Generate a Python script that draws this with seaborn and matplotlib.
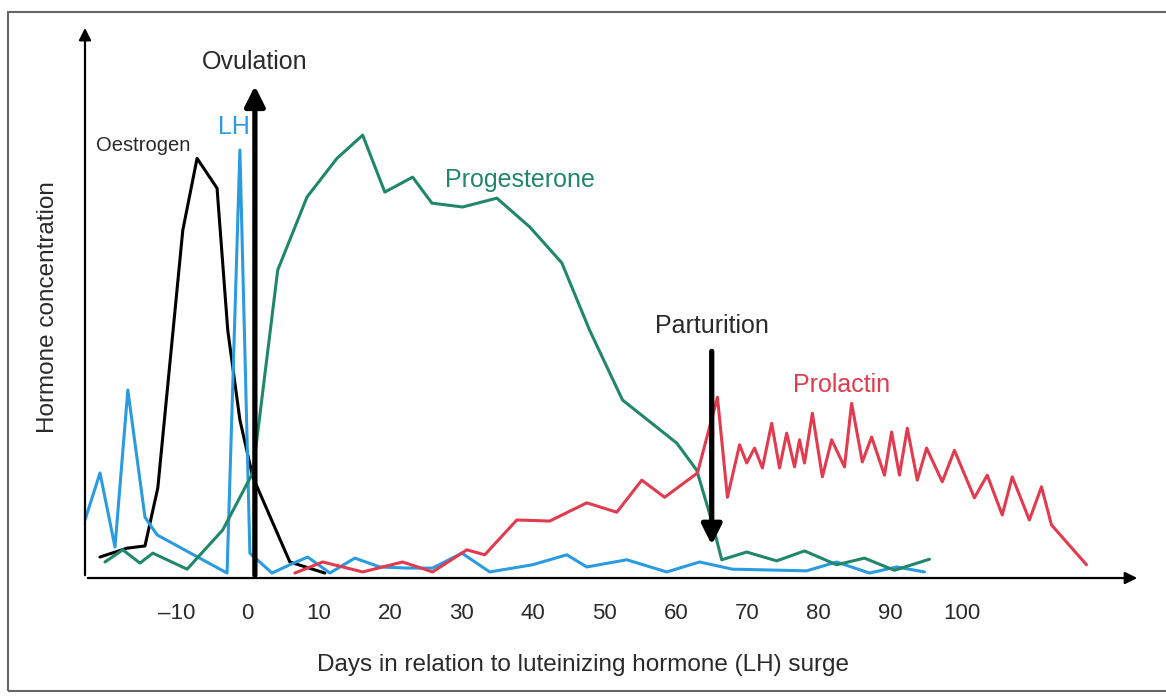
import numpy as np
import pandas as pd
import matplotlib
matplotlib.use("Agg")
import matplotlib.pyplot as plt
from matplotlib.patches import Rectangle
import seaborn as sns

# values (days vs. relative concentration, 0-100)
oestrogen_day = [-20.7, -16.9, -14.4, -12.6, -9.1, -7.1, -4.3, -2.8, -1.1, 0.7, 5.9, 10.8]
oestrogen_val = [3.8, 5.4, 5.8, 16.3, 62.9, 75.9, 70.5, 44.8, 28.6, 18.3, 2.9, 0.9]

lh_day = [-22.8, -20.7, -18.6, -16.8, -14.4, -12.7, -2.9, -1.1, 0.3, 3.4, 5.9, 8.4, 11.5,
          15.0, 18.5, 22.3, 25.9, 30.0, 33.9, 39.9, 44.7, 47.5, 53.1, 58.7, 63.3, 67.9,
          78.3, 82.5, 87.1, 90.9, 94.8]
lh_val = [10.5, 19.0, 5.6, 34.0, 11.0, 7.8, 0.9, 77.4, 4.5, 0.9, 2.4, 3.8, 0.9,
          3.6, 2.0, 1.8, 1.8, 4.5, 1.1, 2.4, 4.2, 2.0, 3.3, 1.1, 2.9, 1.6,
          1.3, 2.9, 0.9, 2.0, 1.1]

prog_day = [-20.0, -17.5, -15.1, -13.3, -8.5, -3.5, 0.7, 4.2, 8.3, 12.5, 16.1, 19.2, 23.1,
            25.8, 30.1, 34.9, 39.5, 44.0, 47.9, 52.5, 60.1, 62.9, 65.1, 66.4, 69.9, 74.1,
            78.0, 82.5, 86.4, 90.6, 95.5]
prog_val = [2.9, 5.1, 2.7, 4.5, 1.6, 8.7, 19.0, 55.7, 68.9, 75.9, 80.1, 69.8, 72.5,
            67.8, 67.1, 68.7, 63.5, 57.0, 44.8, 32.2, 24.4, 19.5, 9.9, 3.3, 4.7, 3.1,
            4.9, 2.4, 3.6, 1.4, 3.4]

prl_day = [6.6, 10.5, 16.1, 21.7, 25.9, 30.7, 33.2, 37.7, 42.3, 47.5, 51.7, 55.2, 58.4,
           63.0, 65.8, 67.2, 68.9, 69.9, 71.0, 72.1, 73.4, 74.5, 75.5, 76.6, 77.3, 78.0,
           79.1, 80.5, 81.8, 83.6, 84.6, 86.1, 87.4, 89.2, 90.2, 91.3, 92.4, 93.8, 95.1,
           97.3, 99.0, 101.8, 103.6, 105.7, 107.1, 109.5, 111.2, 112.6, 117.5]
prl_val = [0.9, 2.9, 1.1, 2.9, 1.1, 5.1, 4.2, 10.5, 10.3, 13.6, 11.9, 17.7, 14.6,
           19.0, 32.7, 14.6, 24.1, 20.8, 23.5, 19.9, 28.0, 19.9, 26.2, 20.1, 25.0, 20.8,
           29.8, 18.3, 25.0, 20.1, 31.6, 21.0, 25.5, 18.6, 26.4, 18.6, 27.1, 17.7, 23.5,
           17.4, 23.1, 14.5, 18.6, 11.4, 18.3, 10.5, 16.5, 9.6, 2.4]

tick_days = [-10, 0, 10, 20, 30, 40, 50, 60, 70, 80, 90, 100]
ovulation_day = 1.0
parturition_day = 65.0

BLUE = '#2b9be0'
GREEN = '#21876a'
RED = '#e23a4e'
TXT = '#2a2a2a'

sns.set_style("white")
plt.rcParams['font.family'] = ['Liberation Sans', 'DejaVu Sans']

fig = plt.figure(figsize=(11.66, 6.97), dpi=100)
ax = fig.add_axes([0.0729, 0.1707, 0.9048, 0.7933])

fig.patches.append(Rectangle((0.007, 0.008), 1.1, 0.975, transform=fig.transFigure,
                             fill=False, edgecolor='#666666', lw=1.5))

series = [(oestrogen_day, oestrogen_val, 'black'),
          (lh_day, lh_val, BLUE),
          (prog_day, prog_val, GREEN),
          (prl_day, prl_val, RED)]
for d, v, c in series:
    sns.lineplot(x=d, y=v, ax=ax, color=c, lw=2.2, estimator=None, sort=False)

ax.set_xlim(-22.8, 125.0)
ax.set_ylim(0, 100)
for s in ax.spines.values():
    s.set_visible(False)
ax.set_yticks([])
ax.set_xticks(tick_days)
ax.set_xticklabels(['\u201310' if t < 0 else str(t) for t in tick_days], fontsize=16, color=TXT)
ax.tick_params(axis='x', length=0, pad=18)

# axes with arrow heads
ax.annotate('', xy=(1.0, 0), xytext=(0, 0), xycoords='axes fraction',
            arrowprops=dict(arrowstyle='-|>', color='black', lw=1.6, mutation_scale=18))
ax.annotate('', xy=(0, 1.0), xytext=(0, 0), xycoords='axes fraction',
            arrowprops=dict(arrowstyle='-|>', color='black', lw=1.6, mutation_scale=18))

# event arrows
ax.annotate('', xy=(ovulation_day, 89.5), xytext=(ovulation_day, 0),
            arrowprops=dict(arrowstyle='-|>', color='black', lw=3.8, mutation_scale=30))
ax.text(ovulation_day, 93.3, 'Ovulation', ha='center', va='center', fontsize=18, color=TXT)
ax.annotate('', xy=(parturition_day, 5.5), xytext=(parturition_day, 41.5),
            arrowprops=dict(arrowstyle='-|>', color='black', lw=3.8, mutation_scale=30))
ax.text(parturition_day, 45.5, 'Parturition', ha='center', va='center', fontsize=18, color=TXT)

ax.text(-14.7, 78.3, 'Oestrogen', ha='center', va='center', fontsize=14.5, color=TXT)
ax.text(-2.0, 81.5, 'LH', ha='center', va='center', fontsize=18, color=BLUE)
ax.text(38.1, 72.0, 'Progesterone', ha='center', va='center', fontsize=18, color=GREEN)
ax.text(83.2, 34.9, 'Prolactin', ha='center', va='center', fontsize=18, color=RED)

ax.set_xlabel('Days in relation to luteinizing hormone (LH) surge', fontsize=17.5, color=TXT)
ax.xaxis.set_label_coords(0.472, -0.157)
ax.xaxis.label.set_verticalalignment('center')
ax.set_ylabel('Hormone concentration', fontsize=17.5, color=TXT)
ax.yaxis.set_label_coords(-0.035, 0.49)
ax.yaxis.label.set_verticalalignment('center')

fig.savefig('out.png', dpi=100)
